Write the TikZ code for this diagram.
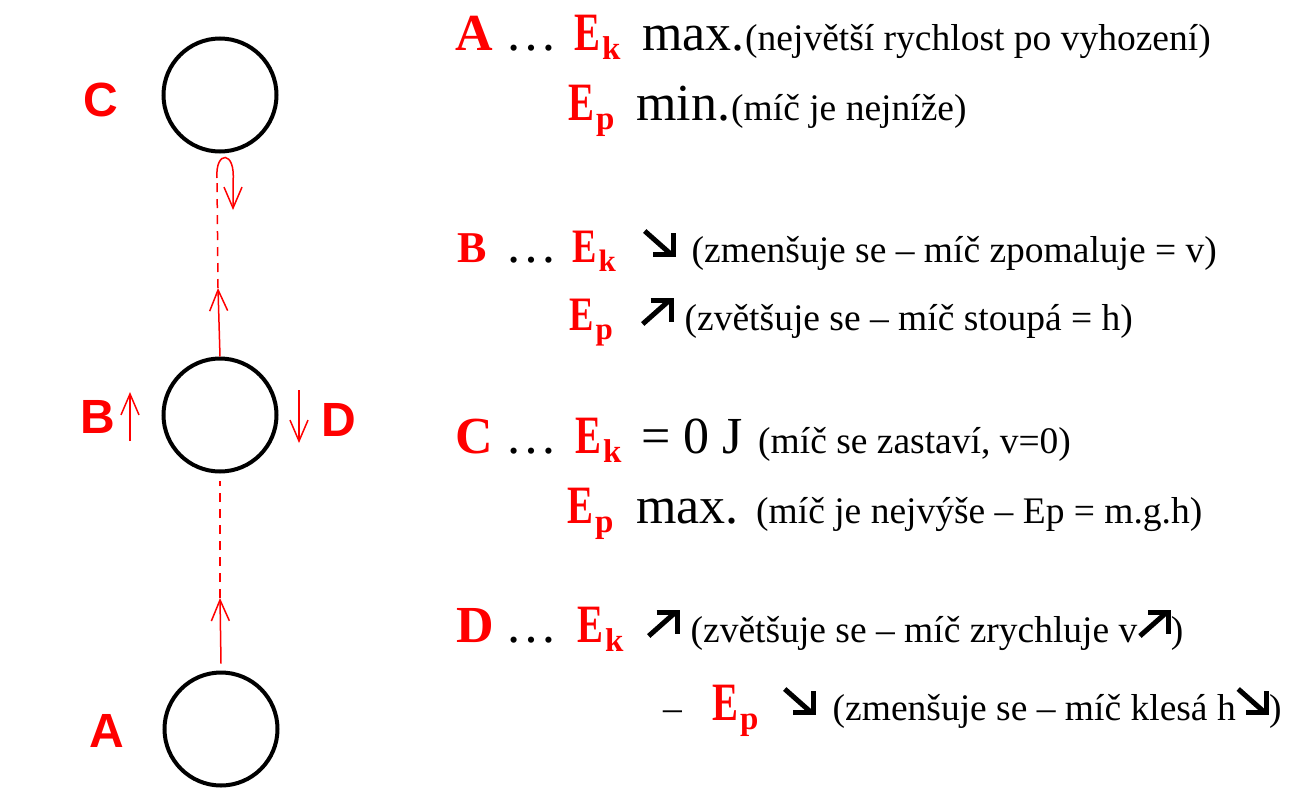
\documentclass[tikz,border=0pt]{standalone}
\usepackage{fontspec}
\usepackage{graphicx}
\setmainfont{Liberation Serif}
\newfontfamily\lblfont{Liberation Sans}
\usetikzlibrary{arrows.meta}

\newcommand{\BigF}{\fontsize{52}{60}\selectfont}
\newcommand{\MidF}{\fontsize{44}{52}\selectfont}
\newcommand{\SmF}{\fontsize{37.5}{44}\selectfont}
\newcommand{\RedL}[1]{\textcolor{red}{\bfseries #1}}
% condensed red E with bold subscript
\newcommand{\En}[1]{\textcolor{red}{\bfseries\fontsize{54}{60}\selectfont\scalebox{0.72}[1]{E}\hspace{2pt}\raisebox{-9pt}{\fontsize{33}{38}\selectfont #1}}}
\newcommand{\Em}[1]{\textcolor{red}{\bfseries\fontsize{48}{56}\selectfont\scalebox{0.76}[1]{E}\hspace{2pt}\raisebox{-9pt}{\fontsize{31}{36}\selectfont #1}}}
\newcommand{\arrSE}{\tikz[baseline=0pt,x=1pt,y=1pt]{\draw[black,line width=5pt] (0,31) -- (26,8);\draw[black,line width=5pt,line join=miter] (28.5,29) -- (28.5,7.5) -- (8,7.5);}}
\newcommand{\arrNE}{\tikz[baseline=0pt,x=1pt,y=1pt]{\draw[black,line width=5pt] (0,6) -- (26,29);\draw[black,line width=5pt,line join=miter] (8,29.5) -- (28.5,29.5) -- (28.5,8);}}

\tikzset{
  ball/.style={circle,draw=black,line width=4pt,minimum size=113pt,inner sep=0pt},
  lbl/.style={text=red,font=\lblfont\bfseries\fontsize{48}{56}\selectfont,inner sep=0pt},
  path/.style={red,line width=1.5pt},
  trail/.style={red,line width=1.5pt,dash pattern=on 9pt off 7pt},
  tip/.style={-{Straight Barb[length=21pt,width=18pt,line width=1.5pt]}},
  seg/.style={anchor=base west,inner sep=0pt,text=black}
}

\begin{document}
\begin{tikzpicture}[x=1pt,y=-1pt]
\useasboundingbox[fill=white] (0,0) rectangle (1292,787);

% balls
\node[ball] (cC) at (220,95) {};
\node[ball] (cB) at (220,415) {};
\node[ball] (cA) at (221,729) {};

% labels
\node[lbl] (lC) at (101,100) {C};
\node[lbl] (lB) at (98,417) {B};
\node[lbl] (lD) at (339,420) {D};
\node[lbl] (lA) at (107,731) {A};

% trajectory A -> B
\coordinate (t1) at (220,598);
\draw[path,tip] ([yshift=7pt]cA.north) -- (t1);
\draw[trail] (t1) -- ([yshift=-7pt]cB.south);

% trajectory B -> C
\coordinate (t2) at (218,288);
\coordinate (lp) at (217,178);
\coordinate (t3) at (233,210);
\draw[path,tip] (cB.north) -- (t2);
\draw[trail] (t2) -- (lp);
\draw[path,tip] (lp) .. controls (215,150) and (236,150) .. (233,182) -- (t3);

% small arrows next to B and D
\coordinate (bS) at (130,441);
\coordinate (bE) at (130,392);
\draw[path,tip] (bS) -- (bE);
\coordinate (dS) at (299,390);
\coordinate (dE) at (299,443);
\draw[path,tip] (dS) -- (dE);

% ---- A ----
\node[seg] (a1) at (455,50) {\BigF\RedL{A}};
\node[seg] (a2) at (505,50) {\BigF …};
\node[seg] (a3) at (574,50) {\En{k}};
\node[seg] (a4) at (642,50) {\BigF max.};
\node[seg] (a5) at (745,50) {\SmF(největší rychlost po vyhození)};
\node[seg] (a6) at (568,120) {\En{p}};
\node[seg] (a7) at (636,120) {\BigF min.};
\node[seg] (a8) at (731,120) {\SmF(míč je nejníže)};
% ---- B ----
\node[seg] (b1) at (457,262) {\MidF\RedL{B}};
\node[seg] (b2) at (505,262) {\BigF …};
\node[seg] (b3) at (572,262) {\Em{k}};
\node[seg] (b5) at (642,262) {\SmF\arrSE\hspace{16pt}(zmenšuje se – míč zpomaluje = v)};
\node[seg] (b6) at (569,330) {\Em{p}};
\node[seg] (b8) at (640,330) {\SmF\arrNE\hspace{11pt}(zvětšuje se – míč stoupá = h)};
% ---- C ----
\node[seg] (c1) at (455,453) {\BigF\RedL{C}};
\node[seg] (c2) at (505,453) {\BigF …};
\node[seg] (c3) at (575,453) {\En{k}};
\node[seg] (c4) at (641,453) {\BigF = 0 J};
\node[seg] (c5) at (758,453) {\SmF(míč se zastaví, v=0)};
\node[seg] (c6) at (567,523) {\En{p}};
\node[seg] (c7) at (636,523) {\BigF max.};
\node[seg] (c8) at (756,523) {\SmF(míč je nejvýše – Ep = m.g.h)};
% ---- D ----
\node[seg] (d1) at (456,642) {\BigF\RedL{D}};
\node[seg] (d2) at (505,642) {\BigF …};
\node[seg] (d3) at (577,642) {\En{k}};
\node[seg] (d5) at (646,642) {\SmF\arrNE\hspace{11pt}(zvětšuje se – míč zrychluje v\arrNE)};
\node[seg] (d6) at (663,720) {\SmF –};
\node[seg] (d7) at (712,720) {\En{p}};
\node[seg] (d9) at (782,720) {\SmF\arrSE\hspace{17pt}(zmenšuje se – míč klesá h\arrSE)};
\end{tikzpicture}
\end{document}
